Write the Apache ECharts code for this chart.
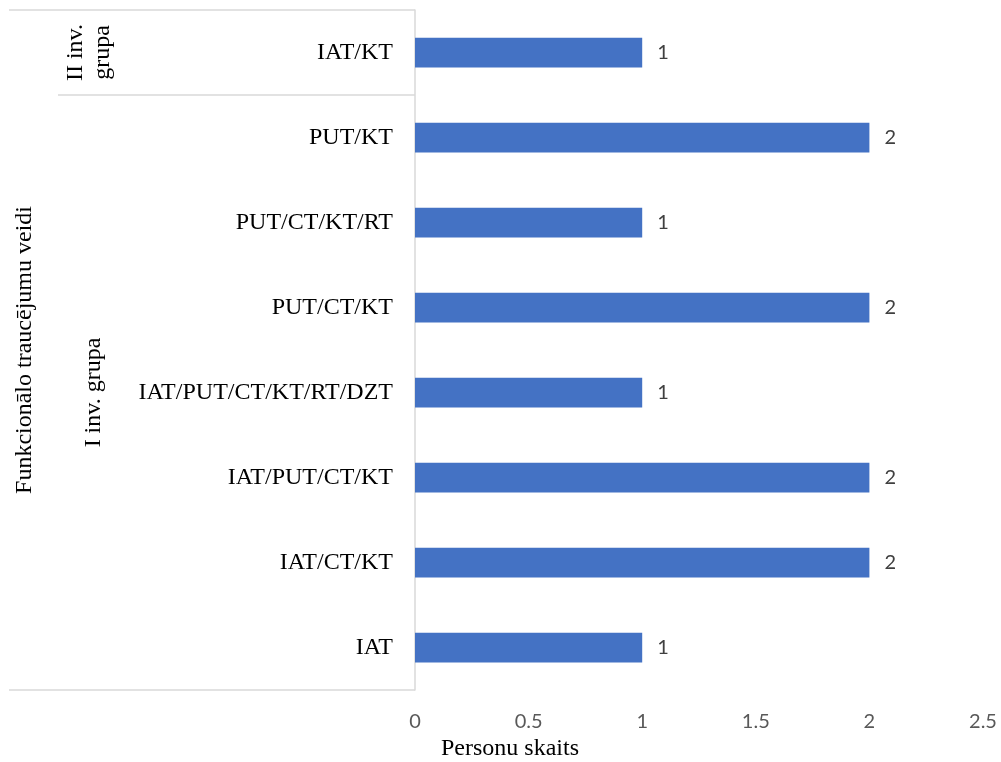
<!DOCTYPE html>
<html>
<head>
<meta charset="utf-8">
<script src="https://cdn.jsdelivr.net/npm/echarts@6/dist/echarts.min.js"></script>
<style>
  html, body { margin: 0; padding: 0; background: #ffffff; }
  #chart { width: 1001px; height: 762px; }
</style>
</head>
<body>
<div id="chart"></div>
<script>
// Impairment combinations, listed bottom to top
const categories = [
  'IAT',
  'IAT/CT/KT',
  'IAT/PUT/CT/KT',
  'IAT/PUT/CT/KT/RT/DZT',
  'PUT/CT/KT',
  'PUT/CT/KT/RT',
  'PUT/KT',
  'IAT/KT'
];
// Number of persons per combination
const personCounts = [1, 2, 2, 1, 2, 1, 2, 1];
// Study groups: label and how many categories (from the bottom) each covers
const groupNames = ['I inv. grupa', 'II inv.\ngrupa'];
const groupSizes = [7, 1];
const xTicks = { min: 0, max: 2.5, step: 0.5 };

const SERIF = '"Liberation Serif", "Times New Roman", serif';
const SANS = 'Lato, "Liberation Sans", sans-serif';
const RULE = '#d9d9d9';

const chart = echarts.init(document.getElementById('chart'));

const option = {
  animation: false,
  backgroundColor: '#ffffff',
  grid: { left: 415, right: 18, top: 10, bottom: 72, containLabel: false },
  xAxis: {
    type: 'value',
    min: xTicks.min,
    max: xTicks.max,
    interval: xTicks.step,
    axisLine: { show: false },
    axisTick: { show: false },
    splitLine: { show: false },
    axisLabel: {
      color: '#595959',
      fontFamily: SANS,
      fontSize: 20,
      margin: 22
    }
  },
  yAxis: {
    type: 'category',
    data: categories,
    axisLine: { show: true, lineStyle: { color: RULE, width: 1.5 } },
    axisTick: { show: false },
    axisLabel: {
      color: '#000000',
      fontFamily: SERIF,
      fontSize: 24,
      margin: 22
    }
  },
  series: [{
    type: 'bar',
    data: personCounts,
    barWidth: '35%',
    itemStyle: { color: '#4472c4' },
    label: {
      show: true,
      position: 'right',
      distance: 15,
      color: '#404040',
      fontFamily: SANS,
      fontSize: 20
    }
  }]
};

chart.setOption(option);

// Group dividers and labels on the category side, placed from the axis scale
function drawGroups() {
  const centers = categories.map((c, i) => chart.convertToPixel({ yAxisIndex: 0 }, i));
  const band = Math.abs(centers[0] - centers[1]);
  const bottomY = centers[0] + band / 2;
  const topY = centers[categories.length - 1] - band / 2;
  const axisX = chart.convertToPixel({ xAxisIndex: 0 }, 0);

  const elements = [];
  const hline = (y, x0) => ({
    type: 'line',
    shape: { x1: x0, y1: y, x2: axisX, y2: y },
    style: { stroke: RULE, lineWidth: 1.5 }
  });

  elements.push(hline(topY, 9));
  elements.push(hline(bottomY, 9));

  let start = 0;
  groupNames.forEach((name, g) => {
    const end = start + groupSizes[g] - 1;
    const yLow = centers[start] + band / 2;
    const yHigh = centers[end] - band / 2;
    if (g < groupNames.length - 1) {
      elements.push(hline(yHigh, 58));
    }
    const multi = name.indexOf('\n') >= 0;
    elements.push({
      type: 'text',
      x: multi ? 89 : 94,
      y: (yLow + yHigh) / 2,
      rotation: Math.PI / 2,
      style: {
        text: name,
        fontFamily: SERIF,
        fontSize: 24,
        lineHeight: 27,
        fill: '#000000',
        align: 'center',
        verticalAlign: 'middle'
      }
    });
    start = end + 1;
  });

  // Axis titles
  elements.push({
    type: 'text',
    x: 25,
    y: (topY + bottomY) / 2,
    rotation: Math.PI / 2,
    style: {
      text: 'Funkcionālo traucējumu veidi',
      fontFamily: SERIF,
      fontSize: 24,
      fill: '#000000',
      align: 'center',
      verticalAlign: 'middle'
    }
  });
  elements.push({
    type: 'text',
    x: 510,
    y: 749,
    style: {
      text: 'Personu skaits',
      fontFamily: SERIF,
      fontSize: 24,
      fill: '#000000',
      align: 'center',
      verticalAlign: 'middle'
    }
  });

  chart.setOption({ graphic: { elements: elements } });
}

drawGroups();
</script>
</body>
</html>
